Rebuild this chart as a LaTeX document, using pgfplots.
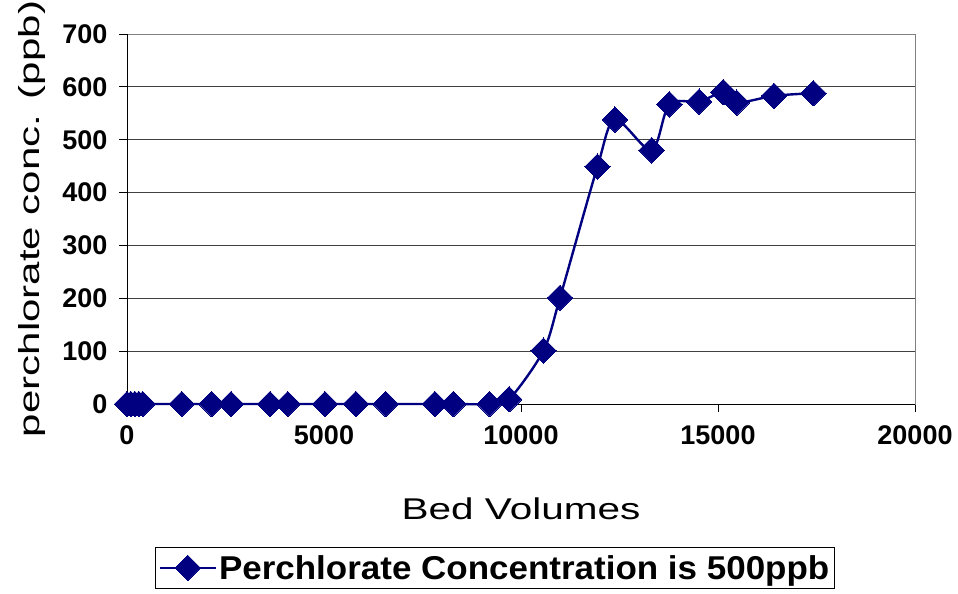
\documentclass[border=0pt]{standalone}
\usepackage{fontspec}
\setmainfont{Liberation Sans}
\newfontfamily\xlabfont[FakeStretch=1.35]{Liberation Sans}
\newfontfamily\ylabfont[FakeStretch=1.45]{Liberation Sans}
\newfontfamily\legfont[FakeStretch=1.06]{Liberation Sans}
\usepackage{pgfplots}
\pgfplotsset{compat=1.18}
\definecolor{navy}{RGB}{0,0,128}

\begin{document}
\begin{tikzpicture}
  \useasboundingbox (-127pt,-190pt) rectangle (831pt,404pt);
  \begin{axis}[
      scale only axis, width=788pt, height=370pt,
      xmin=0, xmax=20000, ymin=0, ymax=700,
      xtick={0,5000,...,20000}, ytick={0,100,...,700},
      scaled x ticks=false,
      /pgf/number format/1000 sep={},
      /pgf/number format/assume math mode=true,
      ticklabel style={font=\bfseries\fontsize{27}{27}\selectfont},
      xticklabel style={yshift=-10pt},
      yticklabel style={xshift=-8pt},
      tick align=outside, major tick length=8pt, tick pos=left,
      tick style={black, line width=0.8pt},
      ymajorgrids, grid style={black!75, line width=0.9pt},
      axis line style={gray, line width=0.9pt},
      clip=false,
      xlabel={Bed Volumes},
      xlabel style={font=\xlabfont\fontsize{30}{30}\selectfont, at={(rel axis cs:0.5,-0.284)}, anchor=center},
      ylabel={perchlorate conc. (ppb)},
      ylabel style={font=\ylabfont\fontsize{29}{29}\selectfont, at={(rel axis cs:-0.1206,0.5)}, anchor=center},
      legend style={at={(rel axis cs:0.467,-0.443)}, anchor=center, draw=black, line width=0.8pt,
        font=\legfont\bfseries\fontsize{33}{33}\selectfont, inner xsep=3pt, inner ysep=6pt},
      legend image code/.code={\draw[mark repeat=2, mark phase=2, #1]
        plot coordinates {(0pt,0pt) (28pt,0pt) (56pt,0pt)};},
    ]
    \draw[black, line width=0.9pt] (rel axis cs:0,1) -- (rel axis cs:0,0) -- (rel axis cs:1,0);
    \addplot[navy, line width=2.4pt, smooth, tension=0.5,
      mark=square*, mark size=9pt, mark options={rotate=45, solid, fill=navy, line width=0pt}]
      coordinates {
        (0,0) (100,0) (200,0) (300,0) (400,0)
        (1390,0) (2150,0) (2640,0) (3630,0) (4080,0)
        (5025,0) (5810,0) (6565,0) (7815,0) (8285,0)
        (9200,0) (9700,9) (10570,101) (10990,201)
        (11940,449) (12385,538) (13315,480) (13765,567)
        (14520,572) (15135,590) (15475,570) (16420,583) (17420,588)
      };
    \legend{Perchlorate Concentration is 500ppb}
  \end{axis}
\end{tikzpicture}
\end{document}
